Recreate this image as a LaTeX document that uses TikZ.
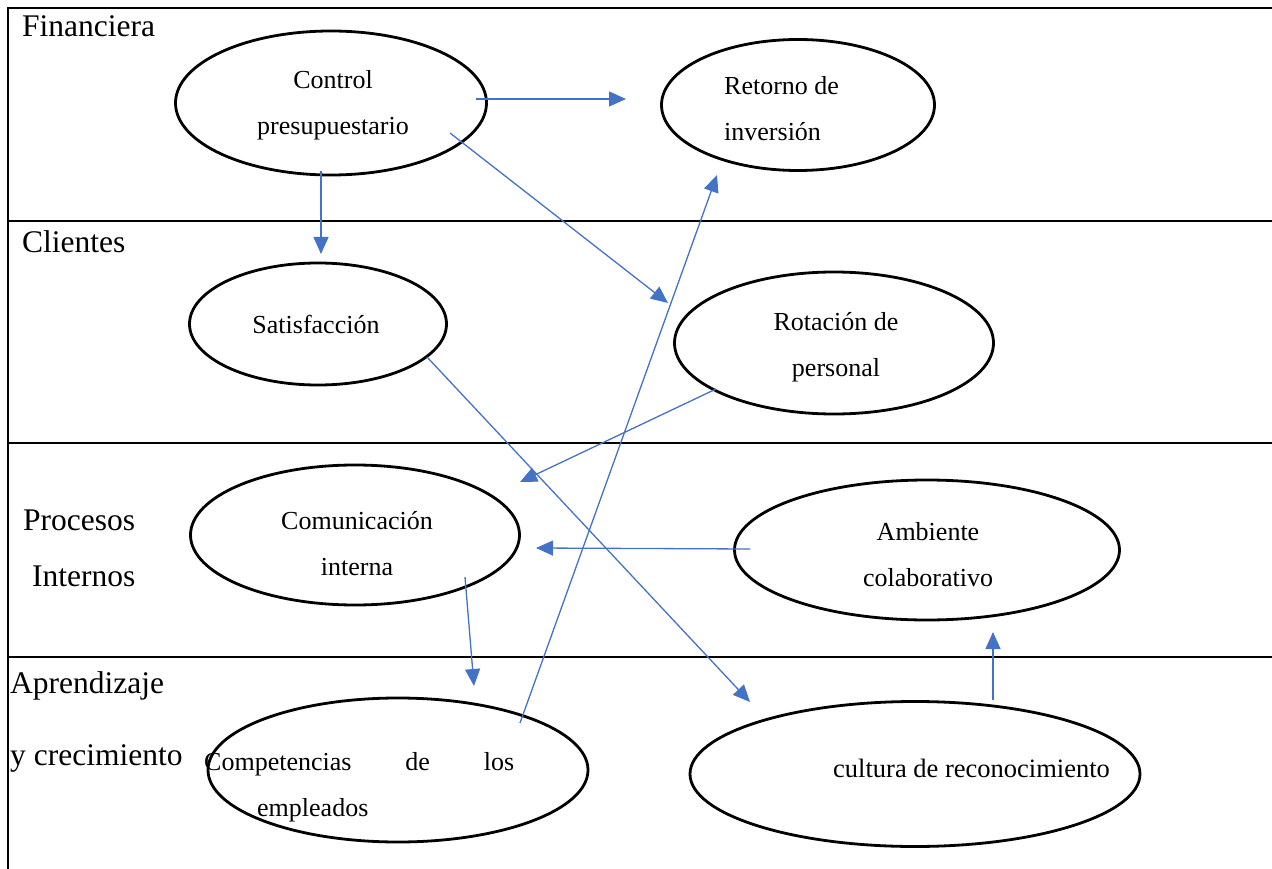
\documentclass[tikz,border=0pt]{standalone}
\usepackage{fontspec}
\setmainfont{Liberation Serif}
\usetikzlibrary{calc,arrows.meta,shapes.geometric}

\definecolor{azul}{HTML}{4472C4}

\tikzset{
  elipse/.style={ellipse, draw, line width=2.8pt, inner sep=0pt},
  texto/.style={font=\fontsize{26}{46}\selectfont, inner sep=0pt, anchor=base},
  etiqueta/.style={font=\fontsize{31.5}{38}\selectfont, inner sep=0pt, anchor=base west},
  flecha/.style={-{Triangle[length=17pt,width=15pt]}, azul, line width=1.3pt},
  marco/.style={line width=1.3pt}
}

\begin{document}
\begin{tikzpicture}[x=1pt,y=-1pt]
  \useasboundingbox (0,0) rectangle (1272,869);
  % marco de las perspectivas
  \draw[marco] (1272,8) -- (8,8) -- (8,869);
  \foreach \y in {221,443,657}{\draw[marco] (8,\y) -- (1272,\y);}

  % perspectivas
  \node[etiqueta] (fin) at (22,37) {Financiera};
  \node[etiqueta] (cli) at (22,252) {Clientes};
  \node[etiqueta] (pro) at (23,530) {Procesos};
  \node[etiqueta] (int) at (32,586) {Internos};
  \node[etiqueta] (apr) at (10,693) {Aprendizaje};
  \node[etiqueta] (cre) at (10,765) {y crecimiento};

  % objetivos
  \node[elipse, minimum width=311pt, minimum height=144pt] (ctrl) at (331,103) {};
  \node[elipse, minimum width=273pt, minimum height=131pt] (ret)  at (798,105) {};
  \node[elipse, minimum width=257pt, minimum height=122pt] (sat)  at (318,324) {};
  \node[elipse, minimum width=319pt, minimum height=142pt] (rot)  at (834,343) {};
  \node[elipse, minimum width=329pt, minimum height=140pt] (com)  at (355,535) {};
  \node[elipse, minimum width=385pt, minimum height=140pt] (amb)  at (927,550) {};
  \node[elipse, minimum width=380pt, minimum height=144pt] (comp) at (398,770) {};
  \node[elipse, minimum width=450pt, minimum height=145pt] (cult) at (915,774) {};

  % textos (base = ultima linea)
  \node[texto, align=center] (ctrl-t) at (333,135) {Control\\presupuestario};
  \node[texto, align=left, anchor=base west] (ret-t) at (724,141) {Retorno de\\inversión};
  \node[texto] (sat-t) at (316,333) {Satisfacción};
  \node[texto, align=center] (rot-t) at (836,376) {Rotación de\\personal};
  \node[texto, align=center] (com-t) at (357,575) {Comunicación\\interna};
  \node[texto, align=center] (amb-t) at (928,586) {Ambiente\\colaborativo};
  \node[texto, align=left, anchor=base west] (comp-t) at (204,816)
    {\makebox[310pt][s]{Competencias de los}\\\hspace*{53pt}empleados};
  \node[texto, anchor=base west, font=\fontsize{26.5}{46}\selectfont] (cult-t) at (833,777) {cultura de reconocimiento};

  % relaciones causa-efecto
  \draw[flecha] ($(ctrl)+(145,-4)$) -- ($(ret)+(-172,-6)$);
  \draw[flecha] ($(ctrl)+(119,30)$) -- ($(rot)+(-166,-40)$);
  \draw[flecha] ($(ctrl)+(-10,68)$) -- ($(sat)+(3,-70)$);
  \draw[flecha] ($(comp)+(122,-47)$) -- ($(ret)+(-81,70)$);
  \draw[flecha] ($(sat)+(109,33)$) -- ($(cult)+(-165,-72)$);
  \draw[flecha] ($(rot)+(-118,46)$) -- ($(com)+(165,-53)$);
  \draw[flecha] ($(amb)+(-177,-1)$) -- ($(com)+(181,13)$);
  \draw[flecha] ($(com)+(110,42)$) -- ($(comp)+(76,-84)$);
  \draw[flecha] ($(cult)+(78,-74)$) -- ($(amb)+(66,82)$);
\end{tikzpicture}
\end{document}
